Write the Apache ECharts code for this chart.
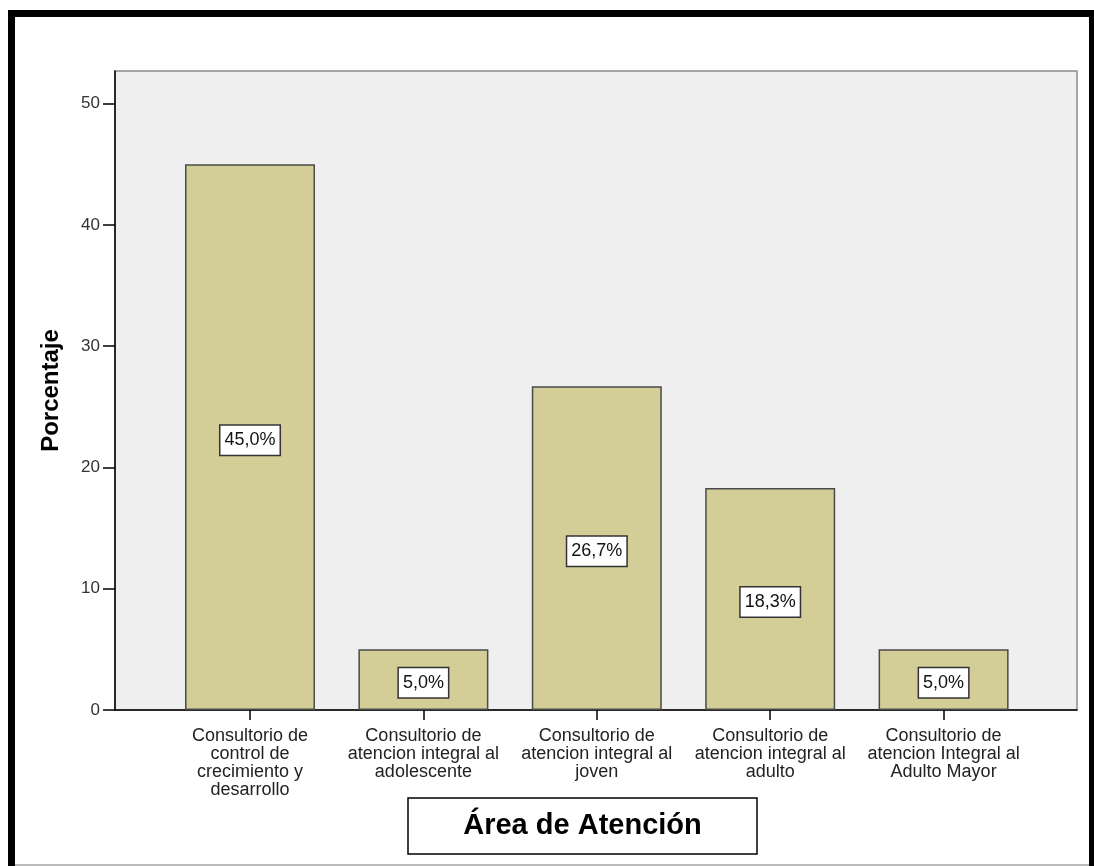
<!DOCTYPE html>
<html>
<head>
<meta charset="utf-8">
<script src="https://cdn.jsdelivr.net/npm/echarts@6/dist/echarts.min.js"></script>
<style>
  html, body { margin: 0; padding: 0; background: #fff; }
  #chart { width: 1094px; height: 866px; }
</style>
</head>
<body>
<div id="chart"></div>
<script>
// datos del gráfico
var categorias = [
  'Consultorio de\ncontrol de\ncrecimiento y\ndesarrollo',
  'Consultorio de\natencion integral al\nadolescente',
  'Consultorio de\natencion integral al\njoven',
  'Consultorio de\natencion integral al\nadulto',
  'Consultorio de\natencion Integral al\nAdulto Mayor'
];
var porcentajes = [45.0, 5.0, 26.7, 18.3, 5.0];
var ticksY = [0, 10, 20, 30, 40, 50];

var FONT = '"Liberation Sans", Arial, sans-serif';
var chart = echarts.init(document.getElementById('chart'));

var option = {
  backgroundColor: '#fff',
  animation: false,
  grid: [
    // marco del área de trazado
    { left: 115, right: 17, top: 71, bottom: 156, show: true,
      backgroundColor: '#efefef', borderColor: '#8c8c8c', borderWidth: 1.5 },
    // barras
    { left: 163.3, right: 63.7, top: 71, bottom: 156 }
  ],
  xAxis: [
    { gridIndex: 0, type: 'value', min: 0, max: 1,
      axisLine: { show: true, lineStyle: { color: '#000', width: 1.5 } },
      axisTick: { show: false }, axisLabel: { show: false }, splitLine: { show: false } },
    { gridIndex: 1, type: 'category', data: categorias,
      axisLine: { show: false },
      axisTick: { show: true, alignWithLabel: true, length: 10, lineStyle: { color: '#000', width: 1.5 } },
      axisLabel: { interval: 0, margin: 17, fontFamily: FONT, fontSize: 18, lineHeight: 18, color: '#222' } }
  ],
  yAxis: [
    { gridIndex: 0, type: 'value', min: 0, max: 52.7,
      name: 'Porcentaje', nameLocation: 'middle', nameGap: 52,
      nameTextStyle: { fontFamily: FONT, fontSize: 24, fontWeight: 'bold', color: '#000' },
      axisLine: { show: true, lineStyle: { color: '#000', width: 1.5 } },
      axisTick: { show: true, length: 12, customValues: ticksY, lineStyle: { color: '#000', width: 1.5 } },
      axisLabel: { customValues: ticksY, margin: 15, fontFamily: FONT, fontSize: 17, color: '#333' },
      splitLine: { show: false } },
    { gridIndex: 1, type: 'value', min: 0, max: 52.7, show: false }
  ],
  series: [{
    type: 'bar',
    xAxisIndex: 1, yAxisIndex: 1,
    data: porcentajes,
    barWidth: 130,
    itemStyle: { color: '#d3ce98', borderColor: '#4a4a4a', borderWidth: 1.5 },
    label: {
      show: true, position: 'inside', offset: [0, 3],
      formatter: function (p) { return p.value.toFixed(1).replace('.', ',') + '%'; },
      fontFamily: FONT, fontSize: 18, color: '#111',
      backgroundColor: '#fff', borderColor: '#333', borderWidth: 1.5,
      padding: [6, 4, 5, 4]
    }
  }],
  graphic: [
    // marco negro exterior
    { type: 'rect', shape: { x: 8, y: 10, width: 1086, height: 7 }, style: { fill: '#000' }, silent: true },
    { type: 'rect', shape: { x: 8, y: 10, width: 7, height: 856 }, style: { fill: '#000' }, silent: true },
    { type: 'rect', shape: { x: 1089, y: 10, width: 5, height: 856 }, style: { fill: '#000' }, silent: true },
    { type: 'rect', shape: { x: 15, y: 864, width: 1074, height: 2 }, style: { fill: '#bbb' }, silent: true },
    // título del eje X en recuadro
    { type: 'rect', shape: { x: 408, y: 798, width: 349, height: 56 },
      style: { fill: '#fff', stroke: '#000', lineWidth: 1.5 }, silent: true },
    { type: 'text', x: 582.5, y: 826,
      style: { text: 'Área de Atención', font: 'bold 29px ' + FONT, fill: '#000',
               align: 'center', verticalAlign: 'middle' }, silent: true }
  ]
};

chart.setOption(option);
</script>
</body>
</html>
